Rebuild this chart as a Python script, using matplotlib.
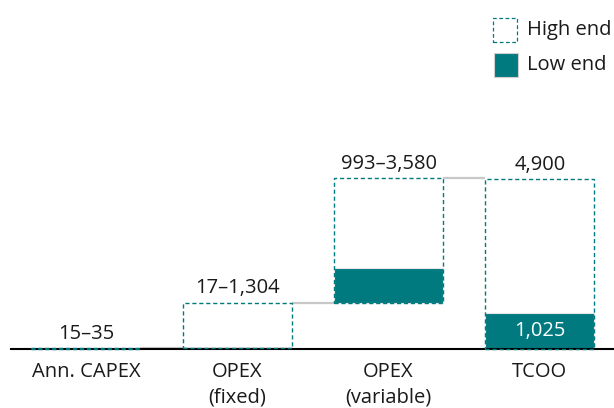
import matplotlib
matplotlib.use("Agg")
import matplotlib.pyplot as plt
from matplotlib.patches import Rectangle

plt.rcParams['font.family'] = ['Open Sans', 'DejaVu Sans']

# --- data ---
categories = ['Ann. CAPEX', 'OPEX\n(fixed)', 'OPEX\n(variable)', 'TCOO']
high_vals = [35, 1304, 3580, 4900]
low_vals = [15, 17, 993, 1025]
range_labels = ['15\u201335', '17\u20131,304', '993\u20133,580', '4,900']
is_total = [False, False, False, True]

TEAL = '#007A7F'
GREY = '#C8C8C8'
BAR_W = 0.72
FS = 14.5

fig = plt.figure(figsize=(6.14, 4.08), dpi=100)
ax = fig.add_axes([0, 0, 1, 1])
ax.set_xlim(-0.568, 3.49)
ax.set_ylim(-1700, 10059)
ax.axis('off')

# running base for the waterfall (high end stack)
bases = []
run = 0
for v, tot in zip(high_vals, is_total):
    if tot:
        bases.append(0)
    else:
        bases.append(run)
        run += v

for i, (hv, lv, b) in enumerate(zip(high_vals, low_vals, bases)):
    x0 = i - BAR_W / 2
    # low end: filled bar sitting at the same base
    ax.add_patch(Rectangle((x0, b), BAR_W, lv, facecolor=TEAL,
                           edgecolor='#E6E6E6', linewidth=0.8, zorder=2))
    # high end: dashed outline
    ax.add_patch(Rectangle((x0, b), BAR_W, hv, facecolor='none',
                           edgecolor=TEAL, linewidth=1.0,
                           linestyle=(0, (3, 2)), zorder=6))
    ax.annotate(range_labels[i], (i, b + hv), xytext=(0, 3),
                textcoords='offset points', ha='center', va='bottom',
                fontsize=FS, color='#1a1a1a')
    # connector to next bar
    if i < len(high_vals) - 1:
        ax.plot([i + BAR_W / 2, i + 1 - BAR_W / 2], [b + hv, b + hv],
                color=GREY, linewidth=1.6, zorder=1, solid_capstyle='butt')

# value inside the total low-end bar
ax.text(3, low_vals[3] / 2, '1,025', ha='center', va='center',
        color='white', fontsize=FS, zorder=4)

# baseline
ax.plot([-0.496, 3.49], [0, 0], color='black', linewidth=1.5, zorder=5)

for i, c in enumerate(categories):
    ax.annotate(c, (i, 0), xytext=(0, -9), textcoords='offset points',
                ha='center', va='top', fontsize=FS, color='#1a1a1a',
                linespacing=1.4)

# legend drawn by hand in figure pixels
def px(x, y):
    return x / 614, 1 - y / 408

lx, ly = px(493, 42)
fig.patches.append(Rectangle((lx, ly), 24 / 614, 24 / 408, transform=fig.transFigure,
                             facecolor='none', edgecolor=TEAL, linewidth=0.9,
                             linestyle=(0, (3, 2))))
lx, ly = px(494, 77)
fig.patches.append(Rectangle((lx, ly), 24 / 614, 24 / 408, transform=fig.transFigure,
                             facecolor=TEAL, edgecolor='#D0D0D0', linewidth=0.8))
tx, ty = px(527, 30)
fig.text(tx, ty, 'High end', ha='left', va='center', fontsize=FS, color='#1a1a1a')
tx, ty = px(527, 65)
fig.text(tx, ty, 'Low end', ha='left', va='center', fontsize=FS, color='#1a1a1a')

fig.savefig('out.png', dpi=100)
